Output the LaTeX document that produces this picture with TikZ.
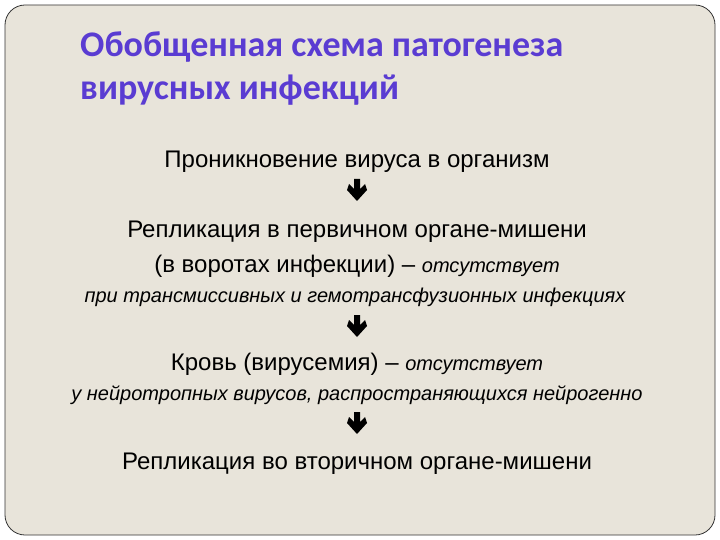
\documentclass[tikz,border=0pt]{standalone}
\usepackage{fontspec}
\setmainfont{Liberation Sans}
\newfontfamily\titlefont{Carlito}
\definecolor{slidebg}{HTML}{E8E4DA}
\definecolor{titlecol}{HTML}{5A3CD2}
\tikzset{
  body/.style={anchor=center, inner sep=0pt, font=\fontsize{24}{28}\selectfont, text=black},
  note/.style={anchor=center, inner sep=0pt, font=\fontsize{20}{24}\selectfont\itshape, text=black},
  ttl/.style={anchor=west, inner sep=0pt, font=\titlefont\bfseries\fontsize{36}{42}\selectfont, text=titlecol},
  fatarrow/.pic={\fill[black] (-3,0) -- (3,0) -- (3,10) -- (8,5) -- (10,11) -- (0,22) -- (-10,11) -- (-8,5) -- (-3,10) -- cycle;}
}
\begin{document}
\begin{tikzpicture}[x=1pt,y=-1pt]
\useasboundingbox (0,0) rectangle (720,540);
\fill[white] (0,0) rectangle (720,540);
\draw[fill=slidebg, draw=black!80, line width=0.8pt, rounded corners=20pt] (5,5) rectangle (715,535);
\node[ttl] (t1) at (80,47) {Обобщенная схема патогенеза};
\node[ttl] (t2) at (80,90) {вирусных инфекций};
\node[body] (n1) at (357,162) {Проникновение вируса в организм};
\pic at (357,179) {fatarrow};
\node[body] (n2) at (357,232) {Репликация в первичном органе-мишени};
\node[body] (n3) at (357,266) {(в воротах инфекции) – {\itshape\fontsize{20}{24}\selectfont отсутствует}};
\node[note] (n4) at (355,297) {при трансмиссивных и гемотрансфузионных инфекциях};
\pic at (357,315) {fatarrow};
\node[body] (n5) at (357,364) {Кровь (вирусемия) – {\itshape\fontsize{20}{24}\selectfont отсутствует}};
\node[note] (n6) at (357,395) {у нейротропных вирусов, распространяющихся нейрогенно};
\pic at (357,412) {fatarrow};
\node[body] (n7) at (357,464) {Репликация во вторичном органе-мишени};
\end{tikzpicture}
\end{document}
